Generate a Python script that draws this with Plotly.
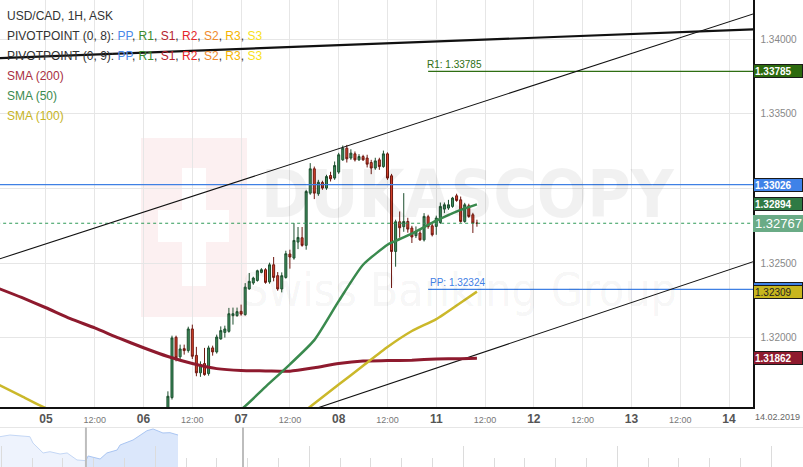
import plotly.graph_objects as go
import pandas as pd

# ---------------- data ----------------
candle_times = pd.date_range("2019-02-06 06:00", "2019-02-11 10:00", freq="h")
candle_times = candle_times[candle_times.dayofweek < 5]

opens = [1.31485, 1.31599, 1.32003, 1.31872, 1.31927, 1.31914, 1.32059, 1.31882, 1.31765, 1.31827,
         1.31760, 1.31932, 1.31905, 1.31992, 1.32036, 1.32043, 1.32148, 1.32148, 1.32177, 1.32155,
         1.32327, 1.32367, 1.32384, 1.32438, 1.32456, 1.32374, 1.32489, 1.32416, 1.32327, 1.32404,
         1.32561, 1.32534, 1.32641, 1.32670, 1.32619, 1.32969, 1.33132, 1.32965, 1.33040, 1.33003,
         1.33087, 1.33070, 1.33110, 1.33192, 1.33270, 1.33204, 1.33232, 1.33192, 1.33214, 1.33204,
         1.33174, 1.33137, 1.33192, 1.33147, 1.33232, 1.33085, 1.32578, 1.32777, 1.32744, 1.32779,
         1.32735, 1.32684, 1.32702, 1.32656, 1.32811, 1.32750, 1.32746, 1.32772, 1.32862, 1.32869,
         1.32880, 1.32951, 1.32924, 1.32779, 1.32884, 1.32824, 1.32768]
highs = [1.31641, 1.32014, 1.32014, 1.31954, 1.31954, 1.32074, 1.32088, 1.31939, 1.31842, 1.31932,
         1.31947, 1.31947, 1.32021, 1.32076, 1.32081, 1.32200, 1.32202, 1.32202, 1.32222, 1.32366,
         1.32434, 1.32409, 1.32456, 1.32466, 1.32466, 1.32503, 1.32541, 1.32440, 1.32438, 1.32583,
         1.32590, 1.32768, 1.32742, 1.32742, 1.32991, 1.33170, 1.33147, 1.33058, 1.33052, 1.33092,
         1.33112, 1.33181, 1.33239, 1.33288, 1.33292, 1.33263, 1.33248, 1.33230, 1.33226, 1.33226,
         1.33192, 1.33206, 1.33206, 1.33254, 1.33242, 1.33098, 1.32791, 1.32846, 1.32969, 1.32804,
         1.32750, 1.32746, 1.32728, 1.32835, 1.32824, 1.32763, 1.32818, 1.32906, 1.32906, 1.32924,
         1.32944, 1.32965, 1.32946, 1.32904, 1.32898, 1.32837, 1.32791]
lows = [1.31465, 1.31586, 1.31842, 1.31854, 1.31887, 1.31900, 1.31858, 1.31742, 1.31738, 1.31746,
        1.31746, 1.31880, 1.31894, 1.31987, 1.32001, 1.32034, 1.32088, 1.32141, 1.32148, 1.32148,
        1.32322, 1.32355, 1.32376, 1.32432, 1.32362, 1.32362, 1.32378, 1.32315, 1.32304, 1.32396,
        1.32463, 1.32523, 1.32594, 1.32610, 1.32590, 1.32958, 1.32929, 1.32951, 1.32991, 1.32991,
        1.33047, 1.33058, 1.33098, 1.33185, 1.33174, 1.33192, 1.33181, 1.33185, 1.33185, 1.33141,
        1.33096, 1.33125, 1.33125, 1.33139, 1.33058, 1.32333, 1.32476, 1.32670, 1.32710, 1.32704,
        1.32635, 1.32668, 1.32650, 1.32645, 1.32730, 1.32679, 1.32690, 1.32763, 1.32835, 1.32857,
        1.32871, 1.32911, 1.32771, 1.32771, 1.32804, 1.32702, 1.32744]
closes = [1.31608, 1.31999, 1.31865, 1.31925, 1.31914, 1.32059, 1.31876, 1.31765, 1.31820, 1.31753,
          1.31932, 1.31905, 1.32005, 1.32048, 1.32059, 1.32161, 1.32161, 1.32175, 1.32159, 1.32339,
          1.32378, 1.32400, 1.32449, 1.32456, 1.32371, 1.32489, 1.32404, 1.32327, 1.32416, 1.32563,
          1.32541, 1.32652, 1.32672, 1.32619, 1.32980, 1.33132, 1.32969, 1.33042, 1.33003, 1.33080,
          1.33065, 1.33154, 1.33226, 1.33270, 1.33199, 1.33237, 1.33192, 1.33214, 1.33192, 1.33163,
          1.33137, 1.33185, 1.33147, 1.33232, 1.33070, 1.32578, 1.32777, 1.32737, 1.32779, 1.32728,
          1.32675, 1.32712, 1.32656, 1.32813, 1.32744, 1.32690, 1.32802, 1.32880, 1.32891, 1.32891,
          1.32936, 1.32920, 1.32779, 1.32891, 1.32813, 1.32768, 1.32767]

sma200_times = ["2019-02-04 12:00", "2019-02-04 18:00", "2019-02-05 00:00", "2019-02-05 06:00",
                "2019-02-05 12:00", "2019-02-05 18:00", "2019-02-06 00:00", "2019-02-06 06:00",
                "2019-02-06 12:00", "2019-02-06 18:00", "2019-02-07 00:00", "2019-02-07 06:00",
                "2019-02-07 12:00", "2019-02-07 18:00", "2019-02-08 00:00", "2019-02-08 06:00",
                "2019-02-08 12:00", "2019-02-08 18:00", "2019-02-11 00:00", "2019-02-11 06:00",
                "2019-02-11 10:00"]
sma200 = [1.32334, 1.32270, 1.32201, 1.32128, 1.32066, 1.31997, 1.31933, 1.31874, 1.31827, 1.31793,
          1.31780, 1.31778, 1.31776, 1.31799, 1.31827, 1.31844, 1.31847, 1.31850, 1.31857, 1.31860,
          1.31862]

sma100_times = ["2019-02-04 12:00", "2019-02-04 18:00", "2019-02-05 00:00", "2019-02-05 12:00",
                "2019-02-06 00:00", "2019-02-06 12:00", "2019-02-07 00:00", "2019-02-07 12:00",
                "2019-02-07 18:00", "2019-02-08 00:00", "2019-02-08 06:00", "2019-02-08 12:00",
                "2019-02-08 18:00", "2019-02-11 00:00", "2019-02-11 06:00", "2019-02-11 10:00"]
sma100 = [1.31690, 1.31609, 1.31528, 1.31418, 1.31318, 1.31285, 1.31318, 1.31439, 1.31559, 1.31686,
          1.31812, 1.31938, 1.32045, 1.32125, 1.32235, 1.32309]

sma50_times = ["2019-02-06 18:00", "2019-02-07 00:00", "2019-02-07 06:00", "2019-02-07 12:00",
               "2019-02-07 18:00", "2019-02-08 00:00", "2019-02-08 06:00", "2019-02-08 12:00",
               "2019-02-08 13:00", "2019-02-08 18:00", "2019-02-11 00:00", "2019-02-11 06:00",
               "2019-02-11 10:00"]
sma50 = [1.31418, 1.31519, 1.31671, 1.31822, 1.31984, 1.32245, 1.32489, 1.32623, 1.32637, 1.32697,
         1.32784, 1.32857, 1.32894]

trend_thick_t = ["2019-02-04 12:00", "2019-02-14 06:00"]
trend_thick_p = [1.33873, 1.34066]
channel_up_t = ["2019-02-04 12:00", "2019-02-14 06:00"]
channel_up_p = [1.32523, 1.34170]
channel_lo_t = ["2019-02-07 15:00", "2019-02-14 06:00"]
channel_lo_p = [1.31495, 1.32510]

pivot_start, pivot_end = "2019-02-08 22:00", "2019-02-14 06:00"
R1 = 1.33785
PP = 1.32324
prev_level = 1.33026
last_price = 1.32767
sma50_last, sma100_last, sma200_last = 1.32894, 1.32309, 1.31862

x_range = ["2019-02-04 12:42", "2019-02-14 05:54"]
y_range = [1.31536, 1.34263]
y_ticks = [1.32, 1.325, 1.33, 1.335, 1.34]
y_ticktext = ["1.32000", "1.32500", "", "1.33500", "1.34000"]
day_ticks = ["2019-02-05", "2019-02-06", "2019-02-07", "2019-02-08", "2019-02-11",
             "2019-02-12", "2019-02-13", "2019-02-14"]
day_labels = ["05", "06", "07", "08", "11", "12", "13", "14"]
half_ticks = ["2019-02-05 12:00", "2019-02-06 12:00", "2019-02-07 12:00", "2019-02-08 12:00",
              "2019-02-11 12:00", "2019-02-12 12:00", "2019-02-13 12:00"]

# navigator overview series
nav_days = [0, 0.32, 0.97, 1.07, 1.40, 1.62, 1.95, 2.18, 2.50, 2.79,
            2.86, 3.25, 3.47, 3.80, 3.90, 4.32, 4.55, 4.77, 4.97, 5.29, 5.52, 5.78]
nav_vals = [1.3311, 1.3328, 1.3311, 1.3246, 1.3144, 1.3157, 1.3133, 1.3144, 1.3072, 1.3065,
            1.3113, 1.3082, 1.3144, 1.3174, 1.3226, 1.3277, 1.3328, 1.3372, 1.3390, 1.3349,
            1.3352, 1.3328]
nav_split = 2.79
nav_window = [2.79, 7.89]

# ---------------- figure ----------------
W, H = 803, 467
XD = 753 / W
FONT = "Liberation Sans, Arial, sans-serif"
NARROW = "Liberation Sans Narrow, Arial Narrow, DejaVu Sans Condensed, sans-serif"

fig = go.Figure()

def hline(t, p, color, width=1, dash=None):
    fig.add_trace(go.Scatter(x=t, y=p, mode="lines", hoverinfo="skip",
                             line=dict(color=color, width=width, dash=dash)))

full_t = ["2019-02-04 12:00", "2019-02-14 06:00"]
hline(full_t, [prev_level, prev_level], "#3f80e4", 1.2)
hline(full_t, [last_price, last_price], "#2f9a58", 1.1, "3px,3px")
hline([pivot_start, pivot_end], [R1, R1], "#2e6e12", 1.1)
hline([pivot_start, pivot_end], [PP, PP], "#3f80e4", 1.2)

hline(channel_up_t, channel_up_p, "#111111", 1.1)
hline(channel_lo_t, channel_lo_p, "#111111", 1.1)
hline(trend_thick_t, trend_thick_p, "#111111", 2.2)

fig.add_trace(go.Scatter(x=sma200_times, y=sma200, mode="lines", hoverinfo="skip",
                         line=dict(color="#8e1a2e", width=3, shape="spline", smoothing=0.6)))
fig.add_trace(go.Scatter(x=sma100_times, y=sma100, mode="lines", hoverinfo="skip",
                         line=dict(color="#cbb82a", width=2.5, shape="spline", smoothing=0.6)))
fig.add_trace(go.Scatter(x=sma50_times, y=sma50, mode="lines", hoverinfo="skip",
                         line=dict(color="#3a8a4e", width=2.5, shape="spline", smoothing=0.6)))

fig.add_trace(go.Candlestick(
    x=candle_times, open=opens, high=highs, low=lows, close=closes,
    increasing=dict(line=dict(color="#1d4f2e", width=1), fillcolor="#3e8e5e"),
    decreasing=dict(line=dict(color="#6e1710", width=1), fillcolor="#d8432a"),
    whiskerwidth=0, hoverinfo="skip"))

# navigator
nav_left = [(d, v) for d, v in zip(nav_days, nav_vals) if d <= nav_split]
nav_right = [(d, v) for d, v in zip(nav_days, nav_vals) if d >= nav_split]
fig.add_trace(go.Scatter(x=[d for d, _ in nav_left], y=[v for _, v in nav_left],
                         xaxis="x2", yaxis="y2", mode="lines", fill="tozeroy",
                         fillcolor="#eef3fd", line=dict(color="#c4d7f5", width=1), hoverinfo="skip"))
fig.add_trace(go.Scatter(x=[d for d, _ in nav_right], y=[v for _, v in nav_right],
                         xaxis="x2", yaxis="y2", mode="lines", fill="tozeroy",
                         fillcolor="#dbe7fb", line=dict(color="#a9c5f2", width=1), hoverinfo="skip"))

tickvals = sorted(day_ticks + half_ticks)
ticktext = []
for t in tickvals:
    if t in day_ticks:
        ticktext.append("<b>%s</b>" % day_labels[day_ticks.index(t)])
    else:
        ticktext.append("<span style='font-size:9px;color:#777;font-weight:normal'>12:00</span>")

fig.update_layout(
    width=W, height=H, margin=dict(l=0, r=0, t=0, b=0),
    paper_bgcolor="white", plot_bgcolor="white", showlegend=False,
    font=dict(family=FONT, color="#333"),
    xaxis=dict(domain=[0, XD], type="date", range=x_range,
               rangebreaks=[dict(bounds=["sat", "mon"])],
               tickmode="array", tickvals=tickvals, ticktext=ticktext, tickangle=0,
               tickfont=dict(size=12, color="#555"),
               showgrid=True, gridcolor="#e6e6e6", gridwidth=1,
               showline=True, linecolor="#111", linewidth=1.5,
               zeroline=False, rangeslider=dict(visible=False), fixedrange=True),
    yaxis=dict(domain=[60 / H, 1], range=y_range, side="right", anchor="x",
               tickmode="array", tickvals=y_ticks, ticktext=y_ticktext,
               tickfont=dict(size=10, color="#888"), ticklabelstandoff=4,
               showgrid=True, gridcolor="#e6e6e6", gridwidth=1,
               showline=True, linecolor="#111", linewidth=1.5, zeroline=False),
    xaxis2=dict(domain=[0, 1], anchor="y2", range=[0, W / 30.8], showgrid=False,
                zeroline=False, showticklabels=False, showline=False,
                ticks="inside", tickmode="linear", tick0=0.042, dtick=5, ticklen=21,
                tickcolor="#dcdcdc", tickwidth=1,
                minor=dict(ticks="inside", tick0=0.042, dtick=1, ticklen=9,
                           tickcolor="#dcdcdc", tickwidth=1)),
    yaxis2=dict(domain=[0, 39 / H], anchor="x2", range=[1.300, 1.340], visible=False),
)

shapes = []
def px_rect(x0, y0, x1, y1, color):
    shapes.append(dict(type="rect", xref="paper", yref="paper", layer="below",
                       x0=x0 / W, x1=x1 / W, y0=1 - y1 / H, y1=1 - y0 / H,
                       fillcolor=color, line=dict(width=0)))
# watermark logo
px_rect(141, 138, 247, 317, "#fcf0f1")
px_rect(182, 168, 206, 286, "#ffffff")
px_rect(158, 210, 229, 242, "#ffffff")
# navigator separators
shapes.append(dict(type="line", xref="paper", yref="paper", x0=0, x1=1,
                   y0=1 - 427.5 / H, y1=1 - 427.5 / H, line=dict(color="#e6e6e6", width=1)))
for d in nav_window:
    shapes.append(dict(type="line", xref="x2", yref="paper", x0=d, x1=d,
                       y0=0, y1=1 - 427.5 / H, line=dict(color="#bdbdbd", width=2)))
fig.update_layout(shapes=shapes)

ann = []
def py(v):
    return 1 - v / H

# watermark text
ann.append(dict(xref="paper", yref="paper", x=468 / W, y=py(194), text="<b>DUKASCOPY</b>",
                showarrow=False, xanchor="center", yanchor="middle",
                font=dict(family=NARROW, size=66, color="rgba(0,0,0,0.055)")))
ann.append(dict(xref="paper", yref="paper", x=460 / W, y=py(290), text="Swiss Banking Group",
                showarrow=False, xanchor="center", yanchor="middle",
                font=dict(family=NARROW, size=46, color="rgba(0,0,0,0.055)")))

# legend texts
pivot_items = ("<span style='color:#4a88e8'>PP</span>, <span style='color:#3b8a2c'>R1</span>, "
               "<span style='color:#b5232e'>S1</span>, <span style='color:#e5262a'>R2</span>, "
               "<span style='color:#f08a2c'>S2</span>, <span style='color:#f5b400'>R3</span>, "
               "<span style='color:#f7e11a'>S3</span>")
legend_lines = [
    ("USD/CAD, 1H, ASK", "#333", 16),
    ("PIVOTPOINT (0, 8): " + pivot_items, "#333", 36),
    ("PIVOTPOINT (0, 9): " + pivot_items, "#333", 56),
    ("SMA (200)", "#a8303f", 76),
    ("SMA (50)", "#3a8a4e", 96),
    ("SMA (100)", "#c6b424", 116),
]
for txt, col, yy in legend_lines:
    ann.append(dict(xref="paper", yref="paper", x=5 / W, y=py(yy), text=txt, showarrow=False,
                    xanchor="left", yanchor="middle", font=dict(size=12, color=col)))

# pivot labels
ann.append(dict(xref="x", yref="y", x=pivot_start, y=R1, text="R1: 1.33785", showarrow=False,
                xanchor="left", yanchor="bottom", xshift=-3, yshift=-1,
                font=dict(size=10, color="#2e6e12")))
ann.append(dict(xref="x", yref="y", x=pivot_start, y=PP, text="PP: 1.32324", showarrow=False,
                xanchor="left", yanchor="bottom", xshift=0, yshift=-1,
                font=dict(size=10, color="#3f80e4")))

# right-side price boxes
def price_box(v, bg, fg, border, size=10, bold=True, h=10, w=46):
    t = "%.5f" % v
    if bold:
        t = "<b>%s</b>" % t
    ann.append(dict(xref="paper", yref="y", x=XD, y=v, text=t, showarrow=False,
                    xanchor="left", yanchor="middle", align="left",
                    bgcolor=bg, bordercolor=border, borderwidth=1, borderpad=1,
                    width=w, height=h, font=dict(size=size, color=fg)))

price_box(R1, "#2c6a0e", "white", "#1a1a1a")
price_box(prev_level, "#3f82e8", "white", "#1a1a1a")
price_box(sma50_last, "#2f7a44", "white", "#1a1a1a")
price_box(last_price, "#6aab86", "white", "#6aab86", size=13, bold=False, h=13, w=47)
price_box(PP, "#3f82e8", "white", "#1a1a1a")
price_box(sma100_last, "#c8b61e", "#222", "#1a1a1a", bold=False)
price_box(sma200_last, "#8e1a2e", "white", "#1a1a1a")

ann.append(dict(xref="paper", yref="paper", x=777 / W, y=py(417), text="14.02.2019",
                showarrow=False, xanchor="center", yanchor="middle",
                font=dict(size=9, color="#666")))

fig.update_layout(annotations=ann)
fig.write_html("out.html", config={"displayModeBar": False, "staticPlot": True},
               post_script="document.body.style.margin='0px';")
